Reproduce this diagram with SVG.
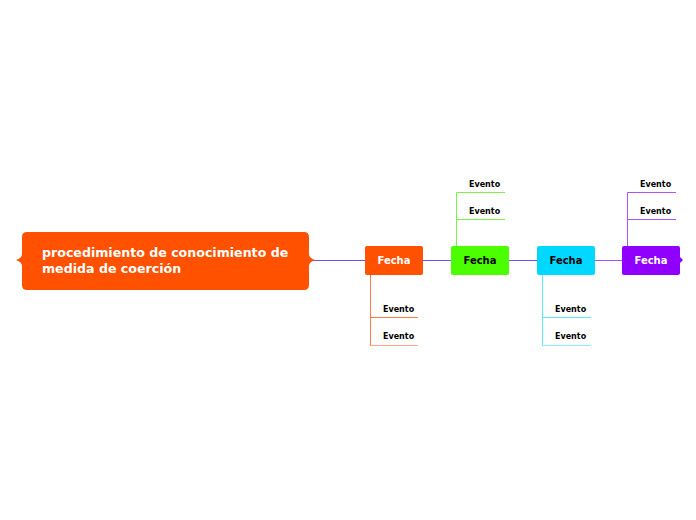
<svg xmlns="http://www.w3.org/2000/svg" width="696" height="520" viewBox="0 0 696 520">
<style>
.t{font-family:"DejaVu Sans",Verdana,sans-serif;font-weight:bold}
.ev{font-size:8px;fill:#000}
.fe{font-size:10px;text-anchor:middle}
.c{fill:none;stroke-width:1}
</style>
<rect width="696" height="520" fill="#fff"/>
<g id="connectors">
<path class="c" stroke="#6c4dff" d="M313 260.5H365M423 260.5H451M509 260.5H537"/>
<path class="c" stroke="#a84dff" d="M595 260.5H622"/>
<path class="c" stroke="#ff7a4a" d="M370.5 275V345M370 317.5H418"/>
<path class="c" stroke="#ffa882" d="M370 345.5H418"/>
<path class="c" stroke="#7ef04a" d="M456.5 246V192.5H505M456 219.5H505"/>
<path class="c" stroke="#5ce8ff" d="M542.5 275V345M542 317.5H591"/>
<path class="c" stroke="#90ecff" d="M542 345.5H591"/>
<path class="c" stroke="#b050ff" d="M627.5 246V192.5H676M627 219.5H676"/>
</g>
<g id="root">
<path fill="#ff5100" d="M27 232H304Q309 232 309 237V254Q309 258 315 260Q309 262 309 266V285Q309 290 304 290H27Q22 290 22 285V266Q22 262 16 260Q22 258 22 254V237Q22 232 27 232Z"/>
<text class="t" font-size="12.6" fill="#fff" x="42" y="257">procedimiento de conocimiento de</text>
<text class="t" font-size="12.6" fill="#fff" x="42" y="273">medida de coerción</text>
</g>
<g id="fecha1">
<rect x="365" y="246" width="58" height="29" rx="2" fill="#ff5100"/>
<text class="t fe" x="394" y="264" fill="#fff">Fecha</text>
</g>
<g id="fecha2">
<rect x="451" y="246" width="58" height="29" rx="2" fill="#4cff00"/>
<text class="t fe" x="480" y="264" fill="#000">Fecha</text>
</g>
<g id="fecha3">
<rect x="537" y="246" width="58" height="29" rx="2" fill="#00d8ff"/>
<text class="t fe" x="566" y="264" fill="#000">Fecha</text>
</g>
<g id="fecha4">
<rect x="622" y="246" width="58" height="29" rx="2" fill="#9000ff"/>
<path d="M680 257L683 260L680 263Z" fill="#9000ff"/>
<text class="t fe" x="651" y="264" fill="#fff">Fecha</text>
</g>
<g id="ev1a"><text class="t ev" x="383" y="312">Evento</text></g>
<g id="ev1b"><text class="t ev" x="383" y="339">Evento</text></g>
<g id="ev2a"><text class="t ev" x="469" y="187">Evento</text></g>
<g id="ev2b"><text class="t ev" x="469" y="214">Evento</text></g>
<g id="ev3a"><text class="t ev" x="555" y="312">Evento</text></g>
<g id="ev3b"><text class="t ev" x="555" y="339">Evento</text></g>
<g id="ev4a"><text class="t ev" x="640" y="187">Evento</text></g>
<g id="ev4b"><text class="t ev" x="640" y="214">Evento</text></g>
</svg>
